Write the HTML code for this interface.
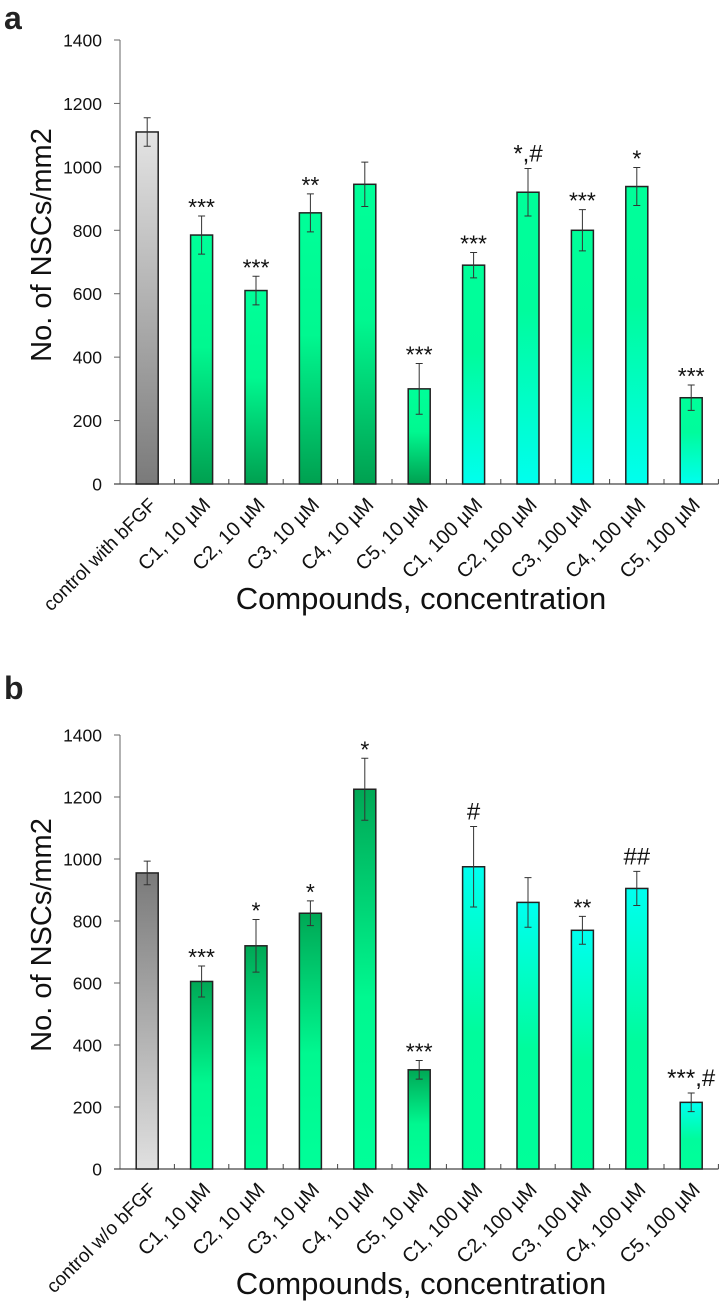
<!DOCTYPE html>
<html><head><meta charset="utf-8"><style>
html,body{margin:0;padding:0;background:#fff;}
svg{display:block;font-family:"Liberation Sans",Arial,sans-serif;}
</style></head><body>
<svg id="chart" width="726" height="1302" viewBox="0 0 726 1302" xmlns="http://www.w3.org/2000/svg">
<defs>
<linearGradient id="grayA" x1="0" y1="0" x2="0" y2="1"><stop offset="0" stop-color="#e4e4e4"/><stop offset="1" stop-color="#7a7a7a"/></linearGradient>
<linearGradient id="greenA" x1="0" y1="0" x2="0" y2="1"><stop offset="0" stop-color="#00ff99"/><stop offset="0.45" stop-color="#00f890"/><stop offset="1" stop-color="#00a050"/></linearGradient>
<linearGradient id="cyanA" x1="0" y1="0" x2="0" y2="1"><stop offset="0" stop-color="#00ff99"/><stop offset="0.4" stop-color="#00fc9c"/><stop offset="1" stop-color="#00ffee"/></linearGradient>
<linearGradient id="grayB" x1="0" y1="0" x2="0" y2="1"><stop offset="0" stop-color="#7a7a7a"/><stop offset="1" stop-color="#e0e0e0"/></linearGradient>
<linearGradient id="greenB" x1="0" y1="0" x2="0" y2="1"><stop offset="0" stop-color="#00a855"/><stop offset="0.55" stop-color="#00f890"/><stop offset="1" stop-color="#00ff99"/></linearGradient>
<linearGradient id="cyanB" x1="0" y1="0" x2="0" y2="1"><stop offset="0" stop-color="#00fff0"/><stop offset="0.55" stop-color="#00fc9c"/><stop offset="1" stop-color="#00ff99"/></linearGradient>
</defs>
<text x="4" y="29" font-size="32" font-weight="bold" fill="#222">a</text>
<text x="4" y="699" font-size="32" font-weight="bold" fill="#222">b</text>
</svg>
<script>
const categoriesA = ["control with bFGF","C1, 10 µM","C2, 10 µM","C3, 10 µM","C4, 10 µM","C5, 10 µM","C1, 100 µM","C2, 100 µM","C3, 100 µM","C4, 100 µM","C5, 100 µM"];
const valuesA = [1110,785,610,855,945,300,690,920,800,938,272];
const errorsA = [45,60,45,60,70,80,40,75,65,60,40];
const sigA = ["","***","***","**","","***","***","*,#","***","*","***"];
const categoriesB = ["control w/o bFGF","C1, 10 µM","C2, 10 µM","C3, 10 µM","C4, 10 µM","C5, 10 µM","C1, 100 µM","C2, 100 µM","C3, 100 µM","C4, 100 µM","C5, 100 µM"];
const valuesB = [955,605,720,825,1225,320,975,860,770,905,215];
const errorsB = [38,50,85,40,100,30,130,80,45,55,30];
const sigB = ["","***","*","*","*","***","#","","**","##","***,#"];
const yTicks = [0,200,400,600,800,1000,1200,1400];

const svg = document.getElementById('chart');
const NS = 'http://www.w3.org/2000/svg';
function mk(tag, attrs, parent){ const e=document.createElementNS(NS,tag); for(const k in attrs) e.setAttribute(k,attrs[k]); (parent||svg).appendChild(e); return e; }

function drawPanel(cats, vals, errs, sigs, top, zero, grads, pfx){
  const g = mk('g',{});
  
  
  const x0=120, cw=54.4, bw=22, yMax=1400;
  const y = v => zero - v/yMax*(zero-top);
  const xc = i => x0 + cw*(i+0.5);
  const ya = mk('line',{x1:x0,y1:top,x2:x0,y2:zero,stroke:'#999','stroke-width':1.5},g);
  
  
  yTicks.forEach(t=>{
    mk('line',{x1:x0-6,y1:y(t),x2:x0,y2:y(t),stroke:'#666','stroke-width':1},g);
    const tl = mk('text',{x:102,y:y(t)+6.5,'font-size':17.5,'text-anchor':'end',fill:'#111'},g);
    tl.textContent=t;
    
    
  });
  const xEnd = x0+cw*cats.length;
  const xa = mk('line',{x1:x0-6,y1:zero,x2:xEnd,y2:zero,stroke:'#444','stroke-width':1.3},g);
  
  
  for(let i=1;i<=cats.length;i++) mk('line',{x1:x0+cw*i,y1:zero-5,x2:x0+cw*i,y2:zero,stroke:'#444','stroke-width':1},g);
  cats.forEach((c,i)=>{
    const fill = i===0?grads[0]:(i<=5?grads[1]:grads[2]);
    const b = mk('rect',{x:xc(i)-bw/2,y:y(vals[i]),width:bw,height:zero-y(vals[i]),fill:'url(#'+fill+')',stroke:'#222','stroke-width':1.5},g);
    
    
    const yt=y(vals[i]+errs[i]), yb=y(vals[i]-errs[i]);
    const eb = mk('path',{d:`M${xc(i)},${yt}V${yb}M${xc(i)-3.5},${yt}H${xc(i)+3.5}M${xc(i)-3.5},${yb}H${xc(i)+3.5}`,stroke:'#333','stroke-width':1,fill:'none'},g);
    
    
    if(sigs[i]){
      const hasHash = sigs[i].includes('#');
      const s = mk('text',{x:xc(i),y:yt-(hasHash?7:1),'font-size':hasHash?24:23,'text-anchor':'middle',fill:'#111'},g);
      s.textContent=sigs[i];
      
      
    }
    const lx=xc(i)+10, ly=zero+22;
    const l = mk('text',{x:lx,y:ly,'font-size':i===0?19:20,'text-anchor':'end',fill:'#111',transform:`rotate(-45 ${lx} ${ly})`},g);
    l.textContent=c;
    
    
  });
  const xt = mk('text',{x:421,y:zero+125,'font-size':31,'text-anchor':'middle',fill:'#111'},g);
  xt.textContent='Compounds, concentration';
  
  
  const cy=(top+zero)/2-17, cx=51;
  const yt2 = mk('text',{x:cx,y:cy,'font-size':29,'text-anchor':'middle',fill:'#111',transform:`rotate(-90 ${cx} ${cy})`},g);
  yt2.textContent='No. of NSCs/mm2';
  
  
}
drawPanel(categoriesA,valuesA,errorsA,sigA,40,484,['grayA','greenA','cyanA'],'a');
drawPanel(categoriesB,valuesB,errorsB,sigB,735,1169,['grayB','greenB','cyanB'],'b');
</script>
</body></html>
